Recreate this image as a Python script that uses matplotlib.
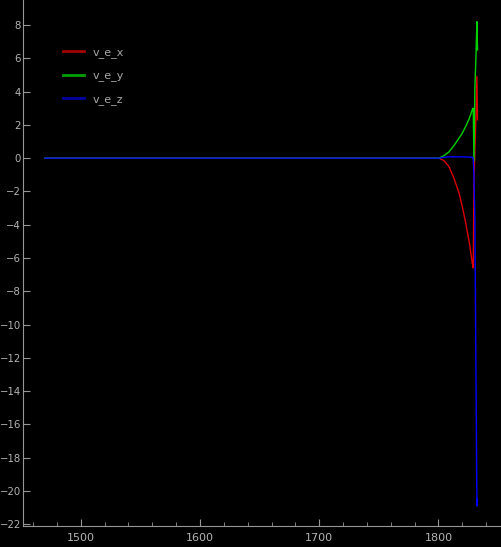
import matplotlib
matplotlib.use('Agg')
import matplotlib.pyplot as plt
from matplotlib.lines import Line2D
from matplotlib.ticker import MultipleLocator

# time samples and velocity components
t = [1470, 1800.5, 1804.7, 1808.9, 1813, 1817.3, 1820, 1822.9, 1826, 1828.4, 1829.2,
     1829.8, 1830.6, 1831.4, 1832.3, 1832.8]
v_e_x = [0.0, 0.0, -0.15, -0.52, -1.2, -2.1, -2.9, -3.9, -5.1, -6.3, -6.6,
         -1.5, 0.5, 2.3, 4.9, 2.3]
v_e_y = [0.0, 0.0, 0.15, 0.38, 0.75, 1.2, 1.5, 1.9, 2.4, 2.9, 3.0,
         -0.2, 4.3, 5.9, 8.2, 6.5]
v_e_z = [0.0, 0.0, 0.05, 0.08, 0.08, 0.08, 0.08, 0.07, 0.06, 0.05, 0.0,
         -1.0, -3.9, -12.0, -20.9, -20.5]
names = ['v_e_x', 'v_e_y', 'v_e_z']

fig = plt.figure(figsize=(5.01, 5.47), dpi=100, facecolor='black')
ax = fig.add_axes([23 / 501, 21 / 547, 478 / 501, 526 / 547], facecolor='black')

ax.plot(t, v_e_x, color='#dc0000', lw=1.0)
ax.plot(t, v_e_y, color='#00d000', lw=1.0)
ax.plot(t, v_e_z, color='#0000ff', lw=1.0)

ax.set_xlim(1451.5, 1852.5)
ax.set_ylim(-22.1, 9.5)
ax.xaxis.set_major_locator(MultipleLocator(100))
ax.xaxis.set_minor_locator(MultipleLocator(20))
ax.yaxis.set_major_locator(MultipleLocator(2))

axis_col = '#969696'
for s in ['top', 'right']:
    ax.spines[s].set_visible(False)
for s in ['left', 'bottom']:
    ax.spines[s].set_color(axis_col)
ax.tick_params(which='major', direction='in', length=5, color=axis_col, labelcolor='#b4b4b4', labelsize=8)
ax.tick_params(axis='x', which='major', pad=5)
ax.tick_params(axis='y', which='major', pad=1.5, labelsize=7.3)
ax.tick_params(which='minor', direction='in', length=3, color=axis_col)
ax.tick_params(axis='y', which='minor', left=False)

# legend swatches are drawn darker than the curves, as in the reference
handles = [Line2D([], [], color=c, lw=2) for c in ['#a00000', '#00a000', '#0000a0']]
leg = ax.legend(handles, names, loc='upper left', bbox_to_anchor=(0.062, 0.93), frameon=False,
                handlelength=1.95, handletextpad=0.75, labelspacing=1.15, fontsize=8)
for txt in leg.get_texts():
    txt.set_color('#a8a8a8')

fig.savefig('out.png', dpi=100, facecolor='black')
